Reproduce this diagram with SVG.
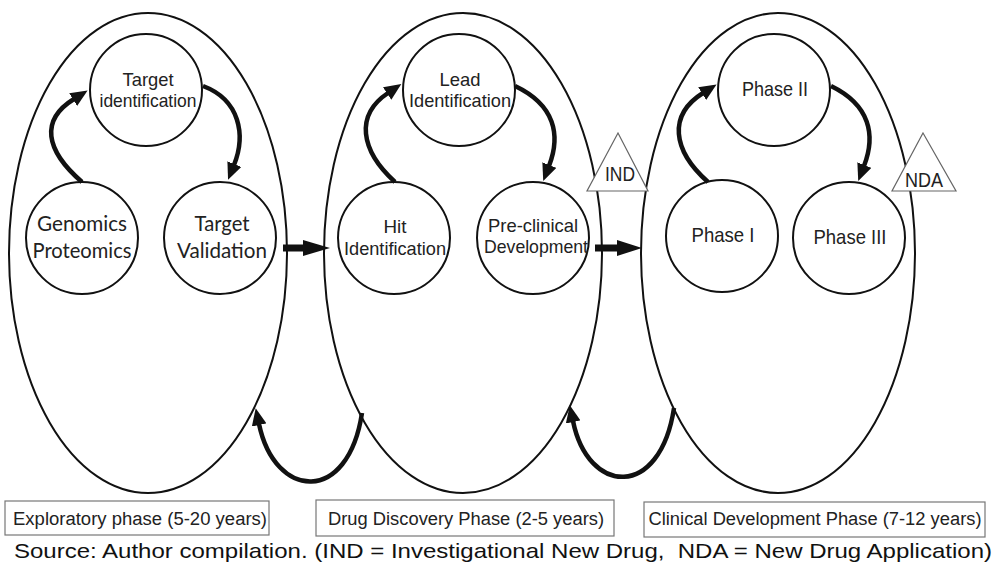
<svg xmlns="http://www.w3.org/2000/svg" width="996" height="563" viewBox="0 0 996 563">
<style>
.ell{fill:none;stroke:#111;stroke-width:2}
.cir{fill:#fff;stroke:#111;stroke-width:2}
.t{font-family:"Liberation Sans",Arial,sans-serif;font-size:21px;fill:#222;text-anchor:middle}
.t2{font-family:"Liberation Sans",Arial,sans-serif;font-size:18.5px;fill:#222;text-anchor:middle}
.c{font-family:Lato,"Open Sans",sans-serif;font-size:21px;fill:#222;text-anchor:middle}
.lab{font-family:"Liberation Sans",Arial,sans-serif;font-size:18px;fill:#222;text-anchor:middle}
.box{fill:#fff;stroke:#777;stroke-width:1.2}
.tri{fill:#fff;stroke:#666;stroke-width:1.2}
.arc{fill:none;stroke:#111;stroke-width:4.5;marker-end:url(#ah)}
.big{fill:#111}
</style>
<defs>
<marker id="ah" viewBox="0 0 17 15" refX="1" refY="7.5" markerWidth="17" markerHeight="15" markerUnits="userSpaceOnUse" orient="auto">
<path d="M0,0 L17,7.5 L0,15 Z" fill="#111"/>
</marker>
</defs>

<g id="phase-exploratory">
<ellipse class="ell" cx="148" cy="253" rx="139" ry="240"/>
</g>
<g id="phase-discovery">
<ellipse class="ell" cx="463" cy="253" rx="139" ry="240"/>
</g>
<g id="phase-clinical">
<ellipse class="ell" cx="778" cy="253" rx="137" ry="240"/>
</g>

<g id="ind">
<polygon class="tri" points="618,133 648,191 587,191"/>
<text class="t" x="620" y="181" textLength="30" lengthAdjust="spacingAndGlyphs">IND</text>
</g>
<g id="nda">
<polygon class="tri" points="923,133 956,191 892,191"/>
<text class="t" x="924" y="187" textLength="38" lengthAdjust="spacingAndGlyphs">NDA</text>
</g>

<g id="target-identification">
<circle class="cir" cx="146" cy="90" r="56"/>
<text class="t2" x="148" y="86" textLength="51" lengthAdjust="spacingAndGlyphs">Target</text>
<text class="t2" x="148" y="107" textLength="97" lengthAdjust="spacingAndGlyphs">identification</text>
</g>
<g id="genomics-proteomics">
<circle class="cir" cx="82" cy="238" r="56"/>
<text class="c" x="82" y="231" textLength="90" lengthAdjust="spacingAndGlyphs">Genomics</text>
<text class="c" x="82" y="258" textLength="99" lengthAdjust="spacingAndGlyphs">Proteomics</text>
</g>
<g id="target-validation">
<circle class="cir" cx="220" cy="238" r="56"/>
<text class="c" x="222" y="231" textLength="55" lengthAdjust="spacingAndGlyphs">Target</text>
<text class="c" x="222" y="258" textLength="90" lengthAdjust="spacingAndGlyphs">Validation</text>
</g>

<g id="lead-identification">
<circle class="cir" cx="459" cy="90" r="56"/>
<text class="t2" x="460" y="86" textLength="41" lengthAdjust="spacingAndGlyphs">Lead</text>
<text class="t2" x="460" y="107" textLength="102" lengthAdjust="spacingAndGlyphs">Identification</text>
</g>
<g id="hit-identification">
<circle class="cir" cx="394" cy="238" r="56"/>
<text class="t2" x="395" y="233" textLength="23" lengthAdjust="spacingAndGlyphs">Hit</text>
<text class="t2" x="395" y="255" textLength="102" lengthAdjust="spacingAndGlyphs">Identification</text>
</g>
<g id="preclinical-development">
<circle class="cir" cx="533" cy="238" r="56"/>
<text class="t2" x="533" y="232" textLength="90" lengthAdjust="spacingAndGlyphs">Pre-clinical</text>
<text class="t2" x="536" y="253" textLength="104" lengthAdjust="spacingAndGlyphs">Development</text>
</g>

<g id="phase-2">
<circle class="cir" cx="774" cy="90" r="56"/>
<text class="t" x="775" y="96" textLength="66" lengthAdjust="spacingAndGlyphs">Phase II</text>
</g>
<g id="phase-1">
<circle class="cir" cx="722" cy="236" r="56"/>
<text class="t" x="723" y="242" textLength="63" lengthAdjust="spacingAndGlyphs">Phase I</text>
</g>
<g id="phase-3">
<circle class="cir" cx="849" cy="238" r="56"/>
<text class="t" x="850" y="244" textLength="73" lengthAdjust="spacingAndGlyphs">Phase III</text>
</g>

<g id="connectors">
<path class="arc" d="M82,182 C45,150 40,120 74,99"/>
<path class="arc" d="M203,86 C240,100 246,135 234,165"/>
<path class="arc" d="M395,182 C360,150 355,115 388,93"/>
<path class="arc" d="M515,86 C555,105 561,135 549,166"/>
<path class="arc" d="M708,182 C672,150 668,115 703,93"/>
<path class="arc" d="M831,86 C870,105 876,135 864,166"/>
<path class="arc" d="M362,413 C348,505 275,500 259,424"/>
<path class="arc" d="M674,408 C660,500 588,495 573,421"/>
<polygon class="big" points="283,244.5 303,244.5 303,240 330,248 303,256 303,251.5 283,251.5"/>
<polygon class="big" points="595,244.5 617,244.5 617,240 642,248 617,256 617,251.5 595,251.5"/>
</g>

<g id="label-exploratory">
<rect class="box" x="5" y="501" width="264" height="34"/>
<text class="lab" x="140" y="525" textLength="254" lengthAdjust="spacingAndGlyphs">Exploratory phase (5-20 years)</text>
</g>
<g id="label-discovery">
<rect class="box" x="316" y="500" width="298" height="36"/>
<text class="lab" x="466" y="525" textLength="276" lengthAdjust="spacingAndGlyphs">Drug Discovery Phase (2-5 years)</text>
</g>
<g id="label-clinical">
<rect class="box" x="644" y="502" width="341" height="35"/>
<text class="lab" x="815" y="525" textLength="333" lengthAdjust="spacingAndGlyphs">Clinical Development Phase (7-12 years)</text>
</g>

<text x="14" y="558" font-family="'Liberation Sans',Arial,sans-serif" font-size="21" fill="#111" textLength="978" lengthAdjust="spacingAndGlyphs" xml:space="preserve">Source: Author compilation. (IND = Investigational New Drug,  NDA = New Drug Application)</text>
</svg>
